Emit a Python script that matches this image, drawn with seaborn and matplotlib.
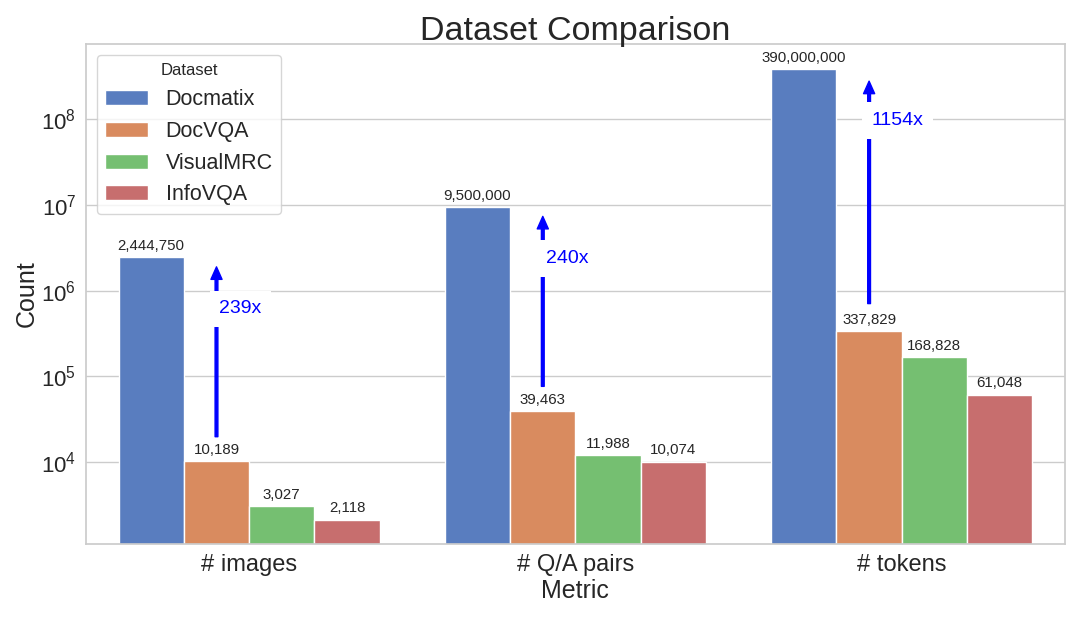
import pandas as pd
import seaborn as sns
import matplotlib.pyplot as plt

# data
metrics = ["# images", "# Q/A pairs", "# tokens"]
datasets = ["Docmatix", "DocVQA", "VisualMRC", "InfoVQA"]
docmatix = [2444750, 9500000, 390000000]
docvqa = [10189, 39463, 337829]
visualmrc = [3027, 11988, 168828]
infovqa = [2118, 10074, 61048]

sns.set_theme(style="whitegrid", palette="muted")
plt.rcParams["font.family"] = ["Liberation Sans", "DejaVu Sans"]
plt.rcParams["mathtext.fontset"] = "custom"
plt.rcParams["mathtext.rm"] = "Liberation Sans"
plt.rcParams["mathtext.it"] = "Liberation Sans:italic"
plt.rcParams["mathtext.default"] = "regular"

rows = []
for name, vals in zip(datasets, [docmatix, docvqa, visualmrc, infovqa]):
    for m, v in zip(metrics, vals):
        rows.append({"Metric": m, "Dataset": name, "Count": v})
df = pd.DataFrame(rows)

fig, ax = plt.subplots(figsize=(10.8, 6.17), dpi=100)
fig.subplots_adjust(left=0.0796, right=0.986, top=0.9287, bottom=0.1183)

sns.barplot(data=df, x="Metric", y="Count", hue="Dataset", ax=ax)
ax.set_yscale("log")
ax.set_ylim(1.1e3, 7.6e8)

for cont in ax.containers:
    vals = [p.get_height() for p in cont]
    ax.bar_label(cont, labels=[f"{int(v):,}" for v in vals], padding=3, fontsize=10.8)

# ratio arrows from DocVQA up to Docmatix
for i, p in enumerate(ax.containers[1]):
    x = p.get_x() + p.get_width() / 2
    ax.annotate("", xy=(x, docmatix[i]), xytext=(x, docvqa[i] * 1.5),
                arrowprops=dict(facecolor="blue", edgecolor="blue", shrink=0.05,
                                width=2, headwidth=8, headlength=9))
    ax.annotate(f"{int(docmatix[i] / docvqa[i])}x", xy=(x, docmatix[i] / 4),
                xytext=(2, 0), textcoords="offset points", color="blue",
                fontsize=14, ha="left", va="center",
                bbox=dict(facecolor="white", edgecolor="none", pad=7))

ax.set_title("Dataset Comparison", fontsize=24.5, pad=3)
ax.set_xlabel("Metric", fontsize=18, labelpad=2)
ax.set_ylabel("Count", fontsize=18, labelpad=2)
ax.tick_params(axis="x", labelsize=17, pad=1)
ax.tick_params(axis="y", labelsize=16, pad=1)
ax.legend(title="Dataset", fontsize=15.5, title_fontsize=12, loc="upper left")

fig.savefig("out.png", dpi=100)
